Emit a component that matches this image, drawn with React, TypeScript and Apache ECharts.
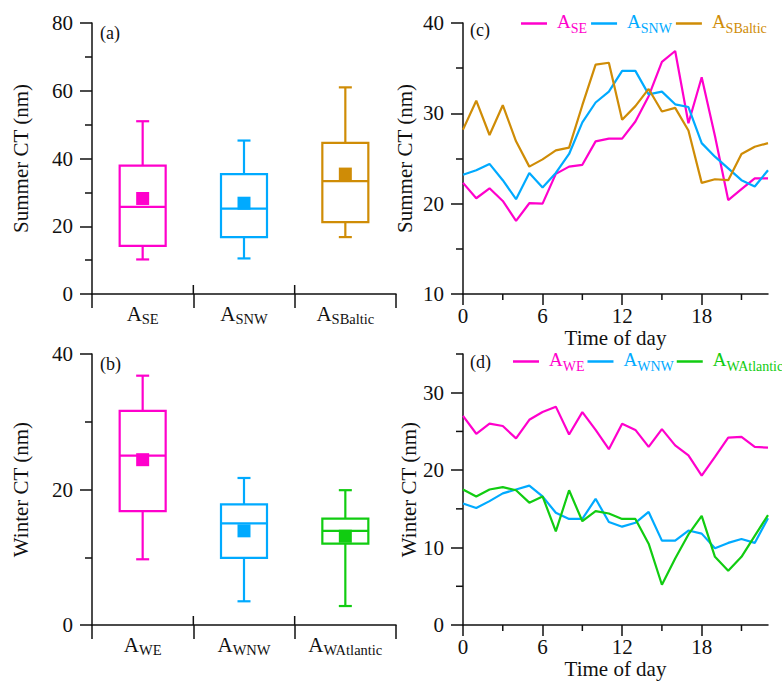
import React, { useEffect, useRef } from 'react';
import * as echarts from 'echarts';

// ---------- Data ----------
const summerCats = ['ASE', 'ASNW', 'ASBaltic'];
const winterCats = ['AWE', 'AWNW', 'AWAtlantic'];

const summerMin = [10.2, 10.5, 16.8];
const summerQ1 = [14.2, 16.8, 21.2];
const summerMedian = [25.7, 25.2, 33.3];
const summerQ3 = [37.9, 35.4, 44.6];
const summerMax = [51, 45.3, 61];
const summerMean = [28.2, 26.8, 35.4];

const winterMin = [9.7, 3.5, 2.8];
const winterQ1 = [16.8, 9.9, 12.0];
const winterMedian = [25.0, 15.0, 13.9];
const winterQ3 = [31.6, 17.8, 15.7];
const winterMax = [36.8, 21.7, 19.9];
const winterMean = [24.4, 13.9, 13.1];

const hours = [0, 1, 2, 3, 4, 5, 6, 7, 8, 9, 10, 11, 12, 13, 14, 15, 16, 17, 18, 19, 20, 21, 22, 23];

const summerSE = [22.3, 20.6, 21.7, 20.3, 18.1, 20.05, 20.0, 23.3, 24.1, 24.3, 26.9, 27.2, 27.2, 29.1, 31.9, 35.7, 36.9, 28.9, 34.0, 27.5, 20.4, 21.6, 22.8, 22.8];
const summerSNW = [23.2, 23.7, 24.4, 22.6, 20.5, 23.4, 21.8, 23.4, 25.5, 29.0, 31.2, 32.4, 34.7, 34.7, 32.1, 32.4, 31.0, 30.7, 26.7, 25.2, 23.9, 22.6, 21.9, 23.7];
const summerSBaltic = [28.2, 31.4, 27.6, 30.9, 26.9, 24.1, 24.9, 25.9, 26.2, 30.9, 35.4, 35.6, 29.3, 30.8, 32.7, 30.2, 30.6, 28.1, 22.3, 22.7, 22.6, 25.5, 26.3, 26.7];

const winterWE = [27.0, 24.7, 26.0, 25.7, 24.1, 26.5, 27.5, 28.2, 24.6, 27.5, 25.2, 22.7, 26.0, 25.2, 23.0, 25.3, 23.2, 21.9, 19.3, 21.7, 24.2, 24.3, 23.0, 22.9];
const winterWNW = [15.7, 15.1, 16.0, 17.0, 17.5, 18.0, 16.6, 14.5, 13.7, 13.7, 16.3, 13.3, 12.7, 13.2, 14.6, 10.9, 10.9, 12.2, 11.8, 9.9, 10.6, 11.1, 10.6, 13.8];
const winterWAtlantic = [17.5, 16.6, 17.5, 17.8, 17.4, 15.8, 16.6, 12.1, 17.4, 13.4, 14.7, 14.4, 13.7, 13.7, 10.5, 5.2, 8.6, 11.7, 14.1, 8.8, 7.0, 8.8, 11.5, 14.2];

const hourTicks = [0, 6, 12, 18];
const hourMinorTicks = [3, 9, 15, 21];
const winterLineTicks = [0, 10, 20, 30];
const winterLineMinorTicks = [5, 15, 25, 35];
const innerDividers = [1, 2];

const summerNames = ['ASE', 'ASNW', 'ASBaltic'];
const winterNames = ['AWE', 'AWNW', 'AWAtlantic'];

// ---------- Styles ----------
const MAGENTA = '#FF00CC';
const BLUE = '#00AAFF';
const GOLD = '#CF8C06';
const GREEN = '#11CC11';
const INK = '#111111';
const FONT = '"Liberation Serif", "Times New Roman", serif';

const summerColors = [MAGENTA, BLUE, GOLD];
const winterColors = [MAGENTA, BLUE, GREEN];

const axisLine = { show: true, onZero: false, lineStyle: { color: INK, width: 1.5 } };
const tickLine = { color: INK, width: 1.5 };

function boxRows(mins: number[], q1: number[], med: number[], q3: number[], max: number[], mean: number[]) {
  return mins.map((m, i) => [i, m, q1[i], med[i], q3[i], max[i], mean[i]]);
}

function boxRender(colors: string[]) {
  return (params: any, api: any) => {
    const idx = api.value(0);
    const c = colors[params.dataIndex];
    const yOf = (v: number) => api.coord([idx, v])[1];
    const cx = api.coord([idx, api.value(3)])[0];
    const yMin = yOf(api.value(1));
    const yQ1 = yOf(api.value(2));
    const yMed = yOf(api.value(3));
    const yQ3 = yOf(api.value(4));
    const yMax = yOf(api.value(5));
    const yMean = yOf(api.value(6));
    const hw = 23;
    const cw = 6.5;
    const ms = 6.5;
    const ls = () => ({ stroke: c, lineWidth: 2.2, fill: null });
    return {
      type: 'group',
      children: [
        { type: 'line', shape: { x1: cx, y1: yQ3, x2: cx, y2: yMax }, style: ls() },
        { type: 'line', shape: { x1: cx - cw, y1: yMax, x2: cx + cw, y2: yMax }, style: ls() },
        { type: 'line', shape: { x1: cx, y1: yQ1, x2: cx, y2: yMin }, style: ls() },
        { type: 'line', shape: { x1: cx - cw, y1: yMin, x2: cx + cw, y2: yMin }, style: ls() },
        { type: 'rect', shape: { x: cx - hw, y: yQ3, width: hw * 2, height: yQ1 - yQ3 }, style: ls() },
        { type: 'line', shape: { x1: cx - hw, y1: yMed, x2: cx + hw, y2: yMed }, style: ls() },
        { type: 'rect', shape: { x: cx - ms, y: yMean - ms, width: ms * 2, height: ms * 2 }, style: { fill: c, stroke: null } },
      ],
    };
  };
}

const catLabelRich = {
  a: { fontSize: 21, fontFamily: FONT, color: INK, verticalAlign: 'top' },
  s: { fontSize: 14.5, fontFamily: FONT, color: INK, verticalAlign: 'top', padding: [8, 0, 0, 0] },
};

function catAxis(gridIndex: number, cats: string[]) {
  return {
    gridIndex,
    type: 'category',
    data: cats,
    boundaryGap: true,
    position: 'bottom',
    axisLine,
    axisTick: { show: true, inside: false, length: 14, lineStyle: tickLine },
    axisLabel: {
      interval: 0,
      hideOverlap: false,
      margin: 9,
      formatter: (v: string) => `{a|A}{s|${v.slice(1)}}`,
      rich: catLabelRich,
    },
    splitLine: { show: false },
  };
}

function hourAxis(gridIndex: number) {
  return {
    gridIndex,
    type: 'value',
    min: 0,
    max: 23,
    position: 'bottom',
    axisLine,
    axisTick: { show: true, length: 11, lineStyle: tickLine, customValues: hourTicks },
    axisLabel: { customValues: hourTicks, fontSize: 21, fontFamily: FONT, color: INK, margin: 11 },
    splitLine: { show: false },
    name: 'Time of day',
    nameLocation: 'middle',
    nameGap: 33,
    nameTextStyle: { fontSize: 21, fontFamily: FONT, color: INK },
  };
}

function valueYAxis(gridIndex: number, min: number, max: number, interval: number, name: string, nameGap: number) {
  return {
    gridIndex,
    type: 'value',
    min,
    max,
    interval,
    position: 'left',
    axisLine,
    axisTick: { show: true, length: 12, lineStyle: tickLine },
    minorTick: { show: true, splitNumber: 2, length: 7, lineStyle: tickLine },
    axisLabel: { fontSize: 21, fontFamily: FONT, color: INK, margin: 19 },
    splitLine: { show: false },
    minorSplitLine: { show: false },
    name,
    nameLocation: 'middle',
    nameGap,
    nameTextStyle: { fontSize: 21, fontFamily: FONT, color: INK },
  };
}

function legendRich(colors: string[]) {
  const rich: any = {};
  colors.forEach((c, i) => {
    rich['a' + i] = { fontSize: 19, fontFamily: FONT, color: c, verticalAlign: 'top', padding: [0, 0, 0, 5] };
    rich['s' + i] = { fontSize: 14, fontFamily: FONT, color: c, verticalAlign: 'top', padding: [9, 0, 0, 0] };
  });
  return rich;
}

function legendFormatter(names: string[]) {
  return (name: string) => {
    const i = names.indexOf(name);
    return `{a${i}|A}{s${i}|${name.slice(1)}}`;
  };
}

function lineSeries(name: string, values: number[], color: string, xAxisIndex: number, yAxisIndex: number) {
  return {
    type: 'line',
    name,
    xAxisIndex,
    yAxisIndex,
    data: hours.map((h, i) => [h, values[i]]),
    symbol: 'none',
    showSymbol: false,
    lineStyle: { color, width: 2.2 },
    itemStyle: { color },
    color,
  };
}

function legendOf(names: string[], colors: string[], left: number, top: number, gap: number) {
  return {
    data: names,
    left,
    top,
    width: 500,
    orient: 'horizontal',
    padding: 0,
    itemGap: gap,
    itemWidth: 26,
    itemHeight: 2.5,
    icon: 'rect',
    formatter: legendFormatter(names),
    textStyle: { rich: legendRich(colors) },
  };
}

const panelLabels = [
  { type: 'text', x: 100, y: 33, style: { text: '(a)', fontSize: 18, fontFamily: FONT, fill: INK, verticalAlign: 'middle' } },
  { type: 'text', x: 100, y: 364, style: { text: '(b)', fontSize: 18, fontFamily: FONT, fill: INK, verticalAlign: 'middle' } },
  { type: 'text', x: 470, y: 30, style: { text: '(c)', fontSize: 18, fontFamily: FONT, fill: INK, verticalAlign: 'middle' } },
  { type: 'text', x: 470, y: 362, style: { text: '(d)', fontSize: 18, fontFamily: FONT, fill: INK, verticalAlign: 'middle' } },
];

export default function App() {
  const ref = useRef<HTMLDivElement>(null);

  useEffect(() => {
    document.body.style.margin = '0';
    if (!ref.current) return;
    const chart = echarts.init(ref.current, null, { renderer: 'svg' });

    const option: any = {
      animation: false,
      backgroundColor: '#ffffff',
      textStyle: { fontFamily: FONT },
      grid: [
        { left: 92, top: 23, width: 304, height: 271, containLabel: false },
        { left: 92, top: 354, width: 304, height: 271, containLabel: false },
        { left: 463, top: 23, width: 305, height: 271, containLabel: false },
        { left: 463, top: 354, width: 305, height: 271, containLabel: false },
      ],
      xAxis: [catAxis(0, summerCats), catAxis(1, winterCats), hourAxis(2), hourAxis(3)],
      yAxis: [
        valueYAxis(0, 0, 80, 20, 'Summer CT (nm)', 61),
        valueYAxis(1, 0, 40, 20, 'Winter CT (nm)', 61),
        valueYAxis(2, 10, 40, 10, 'Summer CT (nm)', 48),
        {
          gridIndex: 3,
          type: 'value',
          min: 0,
          max: 35,
          position: 'left',
          axisLine,
          axisTick: { show: true, length: 12, lineStyle: tickLine, customValues: winterLineTicks },
          axisLabel: { customValues: winterLineTicks, fontSize: 21, fontFamily: FONT, color: INK, margin: 19 },
          splitLine: { show: false },
          name: 'Winter CT (nm)',
          nameLocation: 'middle',
          nameGap: 35,
          nameTextStyle: { fontSize: 21, fontFamily: FONT, color: INK },
        },
      ],
      legend: [
        legendOf(summerNames, summerColors, 521, 12, 4),
        legendOf(winterNames, winterColors, 513, 350, 3),
      ],
      graphic: panelLabels,
      series: [
        {
          type: 'custom',
          name: 'summerBox',
          xAxisIndex: 0,
          yAxisIndex: 0,
          encode: { x: 0, y: [1, 2, 3, 4, 5, 6] },
          data: boxRows(summerMin, summerQ1, summerMedian, summerQ3, summerMax, summerMean),
          renderItem: boxRender(summerColors),
        },
        {
          type: 'custom',
          name: 'winterBox',
          xAxisIndex: 1,
          yAxisIndex: 1,
          encode: { x: 0, y: [1, 2, 3, 4, 5, 6] },
          data: boxRows(winterMin, winterQ1, winterMedian, winterQ3, winterMax, winterMean),
          renderItem: boxRender(winterColors),
        },
        lineSeries('ASE', summerSE, MAGENTA, 2, 2),
        lineSeries('ASNW', summerSNW, BLUE, 2, 2),
        lineSeries('ASBaltic', summerSBaltic, GOLD, 2, 2),
        lineSeries('AWE', winterWE, MAGENTA, 3, 3),
        lineSeries('AWNW', winterWNW, BLUE, 3, 3),
        lineSeries('AWAtlantic', winterWAtlantic, GREEN, 3, 3),
      ],
    };

    chart.setOption(option);

    // extra short tick marks, positioned through the axes' own scales
    const toPx = (xi: number, yi: number, v: [number, number]) =>
      chart.convertToPixel({ xAxisIndex: xi, yAxisIndex: yi } as any, v) as unknown as number[];
    const tickEl = (x1: number, y1: number, x2: number, y2: number) => ({
      type: 'line',
      silent: true,
      z: 10,
      shape: { x1, y1, x2, y2 },
      style: { stroke: INK, lineWidth: 1.5 },
    });
    const extra: any[] = [];
    [0, 1].forEach((gi) => {
      const p0 = toPx(gi, gi, [0, 0]);
      const p1 = toPx(gi, gi, [1, 0]);
      const bw = p1[0] - p0[0];
      innerDividers.forEach((d) => {
        const p = toPx(gi, gi, [d, 0]);
        const x = p[0] - bw / 2;
        extra.push(tickEl(x, p[1], x, p[1] - 9));
      });
    });
    [
      [2, 10],
      [3, 0],
    ].forEach(([gi, yBase]) => {
      hourMinorTicks.forEach((h) => {
        const p = toPx(gi, gi, [h, yBase]);
        extra.push(tickEl(p[0], p[1], p[0], p[1] + 6));
      });
    });
    winterLineMinorTicks.forEach((v) => {
      const p = toPx(3, 3, [0, v]);
      extra.push(tickEl(p[0] - 7, p[1], p[0], p[1]));
    });

    chart.setOption({ graphic: [...panelLabels, ...extra] });

    return () => {
      chart.dispose();
    };
  }, []);

  return <div ref={ref} style={{ width: 782, height: 681 }} />;
}
